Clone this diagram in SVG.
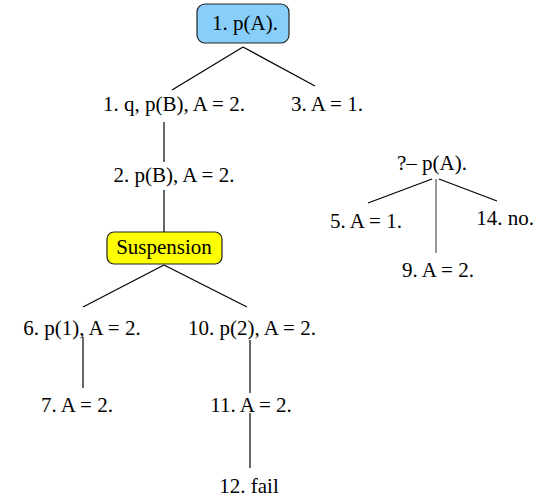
<svg xmlns="http://www.w3.org/2000/svg" width="551" height="499" viewBox="0 0 551 499">
<style>
text{font-family:"Liberation Serif","Times New Roman",serif;font-size:21px;fill:#000;text-anchor:middle}
.e{stroke:#000;stroke-width:1.2;fill:none}
.g{stroke:#777;stroke-width:1.5;fill:none}
.box{stroke:#222;stroke-width:1.2}
</style>
<rect width="551" height="499" fill="#fff"/>
<g id="connectors">
<line class="e" x1="243" y1="47" x2="172" y2="90"/>
<line class="e" x1="243" y1="47" x2="315" y2="86"/>
<line class="e" x1="164" y1="122" x2="164" y2="162"/>
<line class="e" x1="164" y1="190" x2="164" y2="232"/>
<line class="e" x1="164" y1="265" x2="83" y2="307"/>
<line class="e" x1="164" y1="265" x2="247" y2="307"/>
<line class="e" x1="83" y1="337" x2="83" y2="388"/>
<line class="e" x1="250" y1="340" x2="250" y2="393"/>
<line class="e" x1="250" y1="413" x2="250" y2="468"/>
<line class="e" x1="432" y1="179" x2="368" y2="203"/>
<line class="g" x1="436" y1="179" x2="436" y2="253"/>
<line class="e" x1="439" y1="179" x2="497" y2="201"/>
</g>
<g id="n1"><rect class="box" x="197" y="4" width="92" height="39" rx="8" fill="#87cefa"/><text x="245" y="30">1. p(A).</text></g>
<g id="n1q"><text x="174" y="111">1. q, p(B), A = 2.</text></g>
<g id="n3"><text x="327" y="111">3. A = 1.</text></g>
<g id="n2"><text x="174" y="182">2. p(B), A = 2.</text></g>
<g id="susp"><rect x="107" y="232" width="115" height="32" rx="7" fill="#ffff00" class="box"/><text x="164" y="254">Suspension</text></g>
<g id="n6"><text x="82" y="335">6. p(1), A = 2.</text></g>
<g id="n10"><text x="252" y="335">10. p(2), A = 2.</text></g>
<g id="n7"><text x="77" y="412">7. A = 2.</text></g>
<g id="n11"><text x="251" y="412">11. A = 2.</text></g>
<g id="n12"><text x="249" y="493">12. fail</text></g>
<g id="q"><text x="432" y="170">?– p(A).</text></g>
<g id="n5"><text x="366" y="228">5. A = 1.</text></g>
<g id="n14"><text x="505" y="225">14. no.</text></g>
<g id="n9"><text x="438" y="277">9. A = 2.</text></g>
</svg>
